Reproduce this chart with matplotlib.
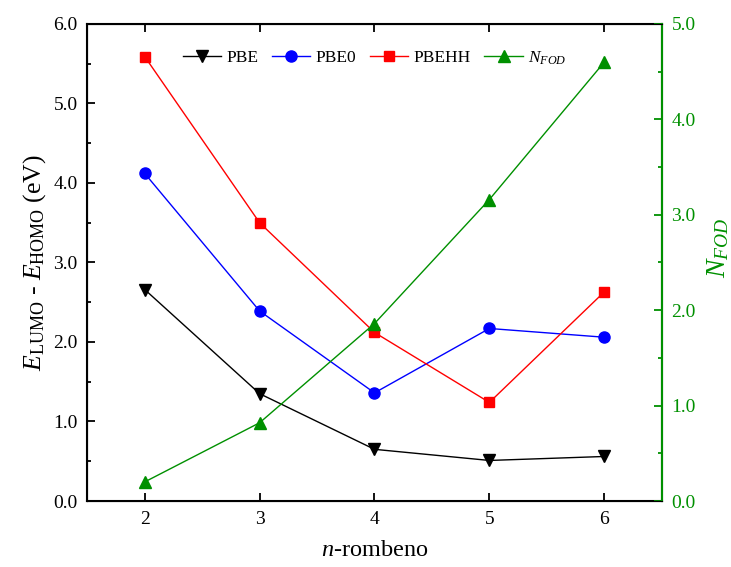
import matplotlib
matplotlib.use('Agg')
from matplotlib import pyplot as pl, rcParams
from matplotlib.ticker import MultipleLocator, FormatStrFormatter

# data
n = [2, 3, 4, 5, 6]
pbe = [2.66, 1.35, 0.65, 0.51, 0.56]
pbe0 = [4.12, 2.39, 1.36, 2.17, 2.06]
pbehh = [5.59, 3.50, 2.12, 1.24, 2.63]
nfod = [0.20, 0.82, 1.86, 3.16, 4.60]

rcParams.update({'font.family': 'Liberation Serif', 'font.size': 14,
                 'mathtext.fontset': 'custom', 'mathtext.rm': 'Liberation Serif',
                 'mathtext.it': 'Liberation Serif:italic'})
green = '#009000'

fig = pl.figure(figsize=(7.31, 5.67), dpi=100)
ax = fig.add_axes([0.1194, 0.1164, 0.7858, 0.8413])
l1, = ax.plot(n, pbe, 'k-v', ms=8, lw=1, label='PBE')
l2, = ax.plot(n, pbe0, '-o', color='#0000ff', ms=8, lw=1, label='PBE0')
l3, = ax.plot(n, pbehh, '-s', color='#ff0000', ms=7, lw=1, label='PBEHH')
ax.set_xlim(1.5, 6.5)
ax.set_ylim(0, 6)
ax.set_xticks(n)
ax.yaxis.set_major_locator(MultipleLocator(1))
ax.yaxis.set_minor_locator(MultipleLocator(0.5))
ax.yaxis.set_major_formatter(FormatStrFormatter('%.1f'))
ax.tick_params(direction='in', which='both', top=True, width=1.3)
ax.tick_params(which='major', length=6, pad=7)
ax.tick_params(which='minor', length=3)
ax.set_xlabel('$n$-rombeno', fontsize=17.5, labelpad=9)
ax.set_ylabel('$E_{\\mathrm{LUMO}}$ - $E_{\\mathrm{HOMO}}$ (eV)', fontsize=18.5, labelpad=4)
for s in ax.spines.values(): s.set_linewidth(1.5)

ax2 = ax.twinx()
l4, = ax2.plot(n, nfod, '-^', color=green, ms=8, lw=1, label='$N_{FOD}$')
ax2.set_ylim(0, 5)
ax2.yaxis.set_major_locator(MultipleLocator(1))
ax2.yaxis.set_minor_locator(MultipleLocator(0.5))
ax2.yaxis.set_major_formatter(FormatStrFormatter('%.1f'))
ax2.tick_params(direction='in', which='both', colors=green, width=1.3)
ax2.tick_params(which='major', length=6, pad=7)
ax2.tick_params(which='minor', length=3)
ax2.spines['right'].set_color(green)
ax2.spines['right'].set_linewidth(1.5)
ax2.set_ylabel('$N_{FOD}$', color=green, fontsize=20)
ax2.yaxis.set_label_coords(1.075, 0.53)

ax.legend(handles=[l1, l2, l3, l4], loc='upper center', bbox_to_anchor=(0.5, 0.98),
          ncol=4, frameon=False, fontsize=12.5, handlelength=2.2, handletextpad=0.3,
          columnspacing=0.8)

fig.savefig('out.png', dpi=100)
